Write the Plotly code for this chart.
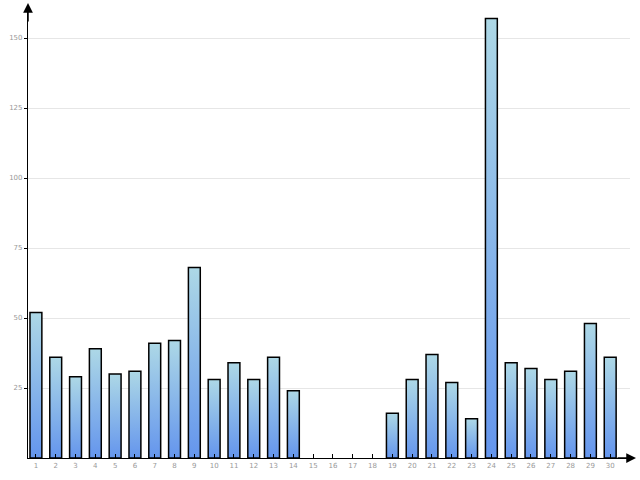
import plotly.graph_objects as go

days = list(range(1, 31))
counts = [52, 36, 29, 39, 30, 31, 41, 42, 68, 28, 34, 28, 36, 24, 0, 0, 0, 0,
          16, 28, 37, 27, 14, 157, 34, 32, 28, 31, 48, 36]
y_ticks = [25, 50, 75, 100, 125, 150]
x_labels = [str(d) for d in days]

BAR_W = 0.6
fig = go.Figure()
for d, v in zip(days, counts):
    if v <= 0:
        continue
    x0, x1 = d - BAR_W / 2, d + BAR_W / 2
    fig.add_trace(go.Scatter(
        x=[x0, x0, x1, x1, x0], y=[0, v, v, 0, 0],
        mode='lines', fill='toself',
        fillgradient=dict(type='vertical',
                          colorscale=[[0, '#6495ED'], [1, '#ADD8E6']]),
        line=dict(color='black', width=1.5),
        hoverinfo='skip', showlegend=False))

fig.update_layout(
    width=640, height=480,
    margin=dict(l=28, r=10, t=10, b=22, autoexpand=False),
    plot_bgcolor='white', paper_bgcolor='white',
    font=dict(family='DejaVu Sans', size=8, color='#999999'),
    xaxis=dict(range=[0.6, 31.0], tickvals=days, ticktext=x_labels,
               automargin=False,
               showgrid=False, zeroline=False, showline=True,
               linecolor='black', linewidth=1.2,
               ticks='inside', ticklen=4, tickcolor='black', tickwidth=1,
               tickfont=dict(size=7, color='#999999')),
    yaxis=dict(range=[0, 160], tickvals=y_ticks, automargin=False,
               showgrid=True, gridcolor='#e6e6e6', gridwidth=1,
               zeroline=False, showline=True,
               linecolor='black', linewidth=1.2,
               ticks='outside', ticklen=3, tickcolor='black', tickwidth=1,
               tickfont=dict(size=7, color='#999999')),
)

# axis arrows
fig.add_annotation(xref='paper', yref='paper', x=0, y=1 + 7 / 448,
                   ax=0, ay=20, text='',
                   showarrow=True, arrowhead=2, arrowsize=1.3, arrowwidth=1.5,
                   arrowcolor='black')
fig.add_annotation(xref='paper', yref='paper', x=1 + 6 / 602, y=0,
                   ax=-20, ay=0, text='',
                   showarrow=True, arrowhead=2, arrowsize=1.3, arrowwidth=1.5,
                   arrowcolor='black')

fig.write_html("out.html", config={'displayModeBar': False},
               post_script="document.body.style.margin='0';")
